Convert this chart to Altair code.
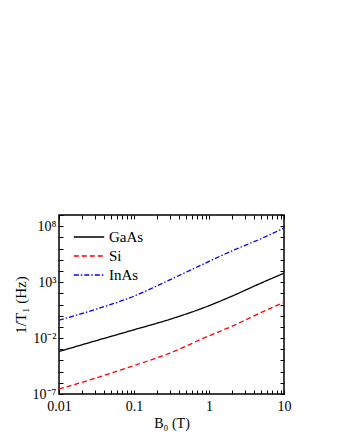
import altair as alt
import pandas as pd

B = [0.01, 0.03, 0.1, 0.3, 1, 2, 5, 10]
gaas = [6.3e-4, 5.4e-3, 5.5e-2, 0.47, 7.8, 54, 850, 6.3e3]
si = [2.8e-7, 2.5e-6, 3.5e-5, 4.5e-4, 1.6e-2, 0.11, 2.0, 16]
inas = [0.40, 3.5, 56, 1.6e3, 7.1e4, 6.0e5, 7.9e6, 6.8e7]
series = ["GaAs", "Si", "InAs"]
colors = ["#000000", "#ff0000", "#0000ff"]
dashes = [[1, 0], [5, 3], [5, 2, 1.5, 2]]

x_ticks = [m * 10 ** e for e in range(-2, 1) for m in range(1, 10)] + [10]
y_ticks = [10.0 ** e for e in range(-7, 10)]

rows = []
for name, vals in zip(series, [gaas, si, inas]):
    for b, v in zip(B, vals):
        rows.append({"B": b, "rate": v, "Material": name})
df = pd.DataFrame(rows)

FONT = "Liberation Serif"
xdom = [0.01, 10]
ydom = [1e-7, 1e9]

ylabel_expr = ("datum.value > 5e7 && datum.value < 2e8 ? '10⁸' : "
               "datum.value > 500 && datum.value < 2000 ? '10³' : "
               "datum.value > 5e-3 && datum.value < 2e-2 ? '10⁻²' : "
               "datum.value > 5e-8 && datum.value < 2e-7 ? '10⁻⁷' : ''")
xlabel_expr = ("abs(datum.value - 0.01) < 1e-9 ? '0.01' : abs(datum.value - 0.1) < 1e-9 ? '0.1' : "
               "abs(datum.value - 1) < 1e-9 ? '1' : abs(datum.value - 10) < 1e-9 ? '10' : ''")

TS = 4

def xscale():
    return alt.Scale(type="log", domain=xdom, nice=False)

def yscale():
    return alt.Scale(type="log", domain=ydom, nice=False)

lines = alt.Chart(df).mark_line(strokeWidth=1.3, clip=True, interpolate="monotone").encode(
    x=alt.X("B:Q", scale=xscale(),
            axis=alt.Axis(values=x_ticks, labelExpr=xlabel_expr, orient="bottom",
                          offset=-TS, tickSize=TS, domain=False, grid=False,
                          labelFlush=False, labelOverlap=False,
                          labelPadding=5, labelFont=FONT, labelFontSize=14,
                          labelColor="#000", tickColor="#000",
                          title="B₀ (T)", titleFont=FONT, titleFontSize=14,
                          titleFontWeight="normal", titleColor="#000", titlePadding=3)),
    y=alt.Y("rate:Q", scale=yscale(),
            axis=alt.Axis(values=y_ticks, labelExpr=ylabel_expr, orient="left",
                          offset=-TS, tickSize=TS, domain=False, grid=False,
                          labelFlush=False, labelOverlap=False,
                          labelPadding=3, labelFont=FONT, labelFontSize=14,
                          labelColor="#000", tickColor="#000",
                          title="1/T₁ (Hz)", titleFont=FONT, titleFontSize=15,
                          titleFontWeight="normal", titleColor="#000", titlePadding=4)),
    color=alt.Color("Material:N", scale=alt.Scale(domain=series, range=colors),
                    sort=series,
                    legend=alt.Legend(orient="none", legendX=21, legendY=13, title=None,
                                      symbolType="M-1.9,0L1.9,0",
                                      symbolSize=256, symbolStrokeWidth=1.5,
                                      labelFont=FONT, labelFontSize=15, labelColor="#000",
                                      rowPadding=2, labelOffset=11, padding=0)),
    strokeDash=alt.StrokeDash("Material:N", scale=alt.Scale(domain=series, range=dashes),
                              sort=series, legend=None),
)

mirror = alt.Chart(df).mark_point(opacity=0).encode(
    x=alt.X("B:Q", scale=xscale(),
            axis=alt.Axis(values=x_ticks, labels=False, orient="top", offset=-TS,
                          tickSize=TS, domain=False, grid=False, title=None,
                          tickColor="#000")),
    y=alt.Y("rate:Q", scale=yscale(),
            axis=alt.Axis(values=y_ticks, labels=False, orient="right", offset=-TS,
                          tickSize=TS, domain=False, grid=False, title=None,
                          tickColor="#000")),
)

chart = alt.layer(lines, mirror).resolve_scale(x="independent", y="independent").properties(
    width=225, height=179,
    autosize=alt.AutoSizeParams(type="none"),
    padding={"left": 51, "top": 207, "right": 40, "bottom": 40},
).configure_view(stroke="#000", strokeWidth=1.5)

chart.save("out.html", embed_options={"renderer": "svg", "actions": False})
